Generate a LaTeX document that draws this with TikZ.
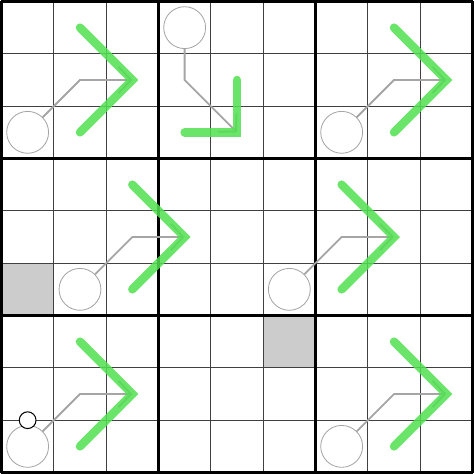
\documentclass[tikz,border=0pt]{standalone}
\usepackage{tikz}
\usetikzlibrary{arrows.meta, positioning, calc}
\definecolor{Lime}{RGB}{80,225,80}
\definecolor{Ash}{RGB}{165,165,165}
\definecolor{Wall}{RGB}{204,204,204}

\begin{document}
\begin{tikzpicture}[x=1cm, y=-1cm,
    agent/.style={circle, draw=Ash, line width=0.45pt, fill=white, minimum size=0.8cm, inner sep=0pt},
    goal/.style={circle, draw=black, line width=0.55pt, fill=white, minimum size=0.32cm, inner sep=0pt},
    path/.style={draw=Ash, line width=1pt, -{Straight Barb[length=0.24cm, width=0.5cm]}},
    move/.style={draw=Lime, line width=4.6pt, line cap=round, line join=miter, opacity=0.85}]
      \useasboundingbox (-0.028,-0.028) rectangle (9.028,9.028);
      % blocked cells
      \fill[Wall] (0,5) rectangle (1,6);
      \fill[Wall] (5,6) rectangle (6,7);
      % grid
      \foreach \i in {1,2,4,5,7,8} {
        \draw[line width=0.55pt, black!75] (\i,0) -- (\i,9);
        \draw[line width=0.55pt, black!75] (0,\i) -- (9,\i);
      }
      \foreach \i in {0,3,6,9} {
        \draw[line width=1.6pt] (\i,0) -- (\i,9);
        \draw[line width=1.6pt] (0,\i) -- (9,\i);
      }
      % agents
      \node[agent] (a1) at (0.5,2.5) {};
      \node[agent] (a2) at (3.5,0.5) {};
      \node[agent] (a3) at (6.5,2.5) {};
      \node[agent] (a4) at (1.5,5.5) {};
      \node[agent] (a5) at (5.5,5.5) {};
      \node[agent] (a6) at (0.5,8.5) {};
      \node[agent] (a7) at (6.5,8.5) {};
      % bends and ends
      \coordinate (k1) at (1.5,1.5); \coordinate (e1) at (2.5,1.5);
      \coordinate (k2) at (3.5,1.5); \coordinate (e2) at (4.5,2.5);
      \coordinate (k3) at (7.5,1.5); \coordinate (e3) at (8.5,1.5);
      \coordinate (k4) at (2.5,4.5); \coordinate (e4) at (3.5,4.5);
      \coordinate (k5) at (6.5,4.5); \coordinate (e5) at (7.5,4.5);
      \coordinate (k6) at (1.5,7.5); \coordinate (e6) at (2.5,7.5);
      \coordinate (k7) at (7.5,7.5); \coordinate (e7) at (8.5,7.5);
      \foreach \n in {1,...,7}
        \draw[path] (a\n) -- (k\n) -- (e\n);
      % moves
      \draw[move] ($(e1)+(-1,-1)$) -- (e1) -- ($(e1)+(-1,1)$);
      \draw[move] ($(e2)+(0,-1)$) -- (e2) -- ($(e2)+(-1,0)$);
      \draw[move] ($(e3)+(-1,-1)$) -- (e3) -- ($(e3)+(-1,1)$);
      \draw[move] ($(e4)+(-1,-1)$) -- (e4) -- ($(e4)+(-1,1)$);
      \draw[move] ($(e5)+(-1,-1)$) -- (e5) -- ($(e5)+(-1,1)$);
      \draw[move] ($(e6)+(-1,-1)$) -- (e6) -- ($(e6)+(-1,1)$);
      \draw[move] ($(e7)+(-1,-1)$) -- (e7) -- ($(e7)+(-1,1)$);
      % target
      \node[goal] (g1) at (0.5,8) {};
    \end{tikzpicture}
\end{document}
